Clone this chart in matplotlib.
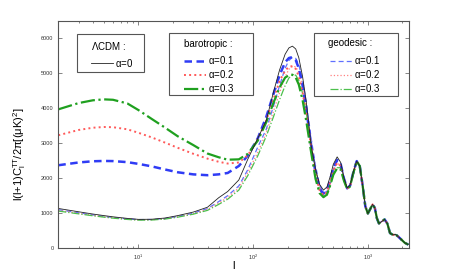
import matplotlib
matplotlib.use("Agg")
import matplotlib.pyplot as plt
from matplotlib.patches import Rectangle
import numpy as np

plt.rcParams['font.family'] = ['Liberation Sans', 'DejaVu Sans']
plt.rcParams['mathtext.fontset'] = 'custom'
plt.rcParams['mathtext.rm'] = 'Liberation Sans'
plt.rcParams['mathtext.it'] = 'Liberation Sans'

# multipoles, low-l + first/second/third peak region
ell = [2, 3, 4, 5, 6, 8, 10, 13, 17, 22, 30, 40, 50, 60, 75, 90, 110, 130, 150,
       170, 190, 205, 220, 235, 250, 270, 290, 320, 350, 380, 410, 440, 470, 500,
       540, 580, 620, 660, 700, 750, 800]
# common high-l tail (all models coincide)
ell_tail = [850, 900, 950, 1000, 1050, 1100, 1150, 1200, 1250, 1320, 1400, 1480,
            1560, 1650, 1750, 1850, 1950, 2100, 2250]
tail = [2350, 1800, 1200, 990, 1120, 1250, 1150, 850, 705, 760, 820, 700,
        430, 380, 390, 320, 250, 150, 100]

lcdm = [1134, 1040, 975, 930, 895, 850, 822, 825, 860, 930, 1030, 1170, 1440, 1620,
        1950, 2550, 3150, 3650, 4450, 5100, 5550, 5730, 5780, 5700, 5450, 4900, 4200,
        2950, 2250, 1820, 1660, 1750, 2050, 2400, 2610, 2450, 2000, 1720, 1800, 2200, 2490]

baro_01 = [2371, 2450, 2485, 2494, 2490, 2460, 2410, 2340, 2250, 2170, 2110, 2086, 2110,
           2150, 2350, 2650, 3150, 3750, 4400, 4950, 5320, 5440, 5466, 5380, 5150, 4650,
           4000, 2950, 2150, 1700, 1560, 1650, 1950, 2300, 2520, 2400, 1980, 1710, 1790,
           2190, 2490]
baro_02 = [3229, 3380, 3445, 3466, 3460, 3400, 3300, 3170, 3020, 2870, 2700, 2560, 2470,
           2420, 2450, 2660, 3120, 3650, 4250, 4780, 5080, 5190, 5209, 5130, 4920, 4450,
           3850, 2900, 2100, 1650, 1510, 1600, 1900, 2220, 2440, 2350, 1960, 1700, 1780,
           2180, 2490]
baro_03 = [3971, 4150, 4230, 4257, 4245, 4140, 3950, 3700, 3450, 3200, 2950, 2706, 2600,
           2530, 2540, 2700, 3080, 3600, 4150, 4600, 4880, 4950, 4963, 4880, 4680, 4230,
           3650, 2750, 1980, 1570, 1457, 1530, 1800, 2100, 2286, 2250, 1920, 1690, 1770,
           2170, 2490]

geo_01 = [1100, 1010, 950, 905, 875, 835, 815, 818, 845, 905, 1000, 1130, 1330, 1500,
          1780, 2250, 2900, 3400, 4050, 4650, 5150, 5370, 5460, 5430, 5250, 4800, 4200,
          3150, 2350, 1800, 1580, 1620, 1900, 2250, 2500, 2420, 2020, 1720, 1770, 2150, 2470]
geo_02 = [1080, 995, 938, 895, 866, 828, 808, 812, 838, 895, 985, 1105, 1290, 1450,
          1720, 2170, 2750, 3300, 3900, 4450, 4900, 5120, 5200, 5190, 5030, 4620, 4050,
          3050, 2270, 1740, 1530, 1580, 1860, 2200, 2420, 2380, 2000, 1710, 1760, 2140, 2470]
geo_03 = [1060, 980, 925, 885, 857, 820, 800, 803, 830, 885, 970, 1080, 1250, 1400,
          1660, 2080, 2650, 3200, 3750, 4250, 4650, 4870, 4950, 4950, 4800, 4430, 3900,
          2950, 2200, 1680, 1480, 1520, 1800, 2130, 2300, 2300, 1960, 1700, 1750, 2130, 2460]

alpha_labels = [r'$\alpha$=0.1', r'$\alpha$=0.2', r'$\alpha$=0.3']

blue = '#2f3cf5'
red = '#ff5a5a'
green = '#1fa01f'

fig = plt.figure(figsize=(4.52, 2.8), dpi=100)
ax = fig.add_axes([0.129, 0.114, 0.7766, 0.811])

l_all = np.array(ell + ell_tail)


def full(vals):
    return np.array(vals + tail)


# geodesic (thin)
g1, = ax.plot(l_all, full(geo_01), '--', color='#6070ff', lw=0.9, dashes=(4, 2.5))
g2, = ax.plot(l_all, full(geo_02), ':', color='#ff8080', lw=0.9)
g3, = ax.plot(l_all, full(geo_03), '-.', color='#4cc04c', lw=0.9)
# barotropic (thick)
b1, = ax.plot(l_all, full(baro_01), '--', color=blue, lw=1.8, dashes=(3, 1.8))
b2, = ax.plot(l_all, full(baro_02), ':', color=red, lw=1.4)
b3, = ax.plot(l_all, full(baro_03), '-.', color=green, lw=1.6)
# LCDM
lc, = ax.plot(l_all, full(lcdm), '-', color='#222222', lw=0.6)

ax.set_xscale('log')
ax.set_xlim(2, 2300)
ax.set_ylim(0, 6500)
ax.set_yticks(np.arange(0, 6001, 1000))

for s in ax.spines.values():
    s.set_color('#555555')
    s.set_linewidth(0.8)
ax.tick_params(which='both', direction='in', top=True, right=True,
               colors='#555555', labelcolor='#333333', labelsize=4, width=0.5)
ax.tick_params(which='major', length=3)
ax.tick_params(which='minor', length=1.6)

ax.set_ylabel(r'l(l+1)C$_{\rm l}^{\rm TT}$/2$\pi$[($\mu$K)$^{\rm 2}$]', fontsize=8)
ax.yaxis.set_label_coords(-0.085, 0.414)
ax.set_xlabel('l', fontsize=8)
ax.xaxis.set_label_coords(0.5, -0.055)


def px(x, y):
    return x / 452, 1 - y / 280


def box(x0, y0, x1, y1):
    fig.patches.append(Rectangle(px(x0, y1), (x1 - x0) / 452, (y1 - y0) / 280,
                                 transform=fig.transFigure, fill=False,
                                 edgecolor='#555555', lw=0.8, zorder=5))


leg_kw = dict(loc='center left', bbox_transform=fig.transFigure, frameon=False,
              fontsize=7, handlelength=2.3, handletextpad=0.2, labelspacing=0.2,
              borderpad=0, borderaxespad=0)

# LCDM box
box(77, 34, 144, 72)
fig.text(*px(91, 45.5), r'$\Lambda$CDM :', fontsize=7, va='center', ha='left')
leg1 = ax.legend([lc], [r'$\alpha$=0'], bbox_to_anchor=px(91, 62.7), **leg_kw)
ax.add_artist(leg1)

# barotropic box
box(169, 33, 253, 95)
fig.text(*px(184, 44), 'barotropic :', fontsize=7, va='center', ha='left')
leg2 = ax.legend([b1, b2, b3], alpha_labels, bbox_to_anchor=px(184, 74), **leg_kw)
ax.add_artist(leg2)

# geodesic box
box(314, 33, 398, 96)
fig.text(*px(328, 42.5), 'geodesic :', fontsize=7, va='center', ha='left')
leg3 = ax.legend([g1, g2, g3], alpha_labels, bbox_to_anchor=px(330, 74), **leg_kw)

fig.savefig('out.png', dpi=100)
